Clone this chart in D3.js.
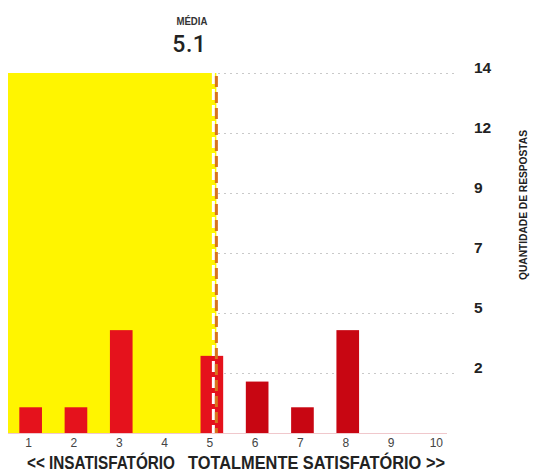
<!DOCTYPE html>
<html><head><meta charset="utf-8">
<script src="https://cdn.jsdelivr.net/npm/d3@7"></script>
<style>
html,body{margin:0;padding:0;background:#fff;}
svg{display:block;font-family:"Liberation Sans",Arial,sans-serif;}
</style></head>
<body>
<svg id="c" width="540" height="473"></svg>
<script>
const categories = ["1","2","3","4","5","6","7","8","9","10"];
const counts = [1,1,4,0,3,2,1,4,0,0];
const yTickValues = [14/6, 28/6, 7, 56/6, 70/6, 14];
const yTickLabels = ["2","5","7","9","12","14"];
const yMax = 14;
const meanTitle = "MÉDIA";
const yAxisTitle = "QUANTIDADE DE RESPOSTAS";
const leftLabel = "<< INSATISFATÓRIO";
const rightLabel = "TOTALMENTE SATISFATÓRIO >>";

const total = d3.sum(counts);
const meanRaw = d3.sum(counts, (d,i)=> d*(+categories[i])) / total;
const meanShown = +meanRaw.toFixed(1);

const svg = d3.select("#c");
const x = d3.scaleBand().domain(categories).range([8, 461]).paddingInner(0.5).paddingOuter(0.25);
const step = x.step();
const c1 = x("1")+x.bandwidth()/2;
const xLin = d3.scaleLinear().domain([1, 2]).range([c1, c1+step]);
const y = d3.scaleLinear().domain([0, yMax]).range([433, 73]);
const meanX = xLin(meanShown);

// gridlines
svg.append("g").selectAll("line").data(yTickValues).join("line")
  .attr("x1", xLin(0.5)).attr("x2", 458)
  .attr("y1", d=>Math.round(y(d))+0.5).attr("y2", d=>Math.round(y(d))+0.5)
  .attr("stroke", "#c9c9c9").attr("stroke-width", 1.2).attr("stroke-dasharray", "2,4");

// yellow area up to mean
svg.append("rect").attr("x", xLin(0.5)).attr("y", y(yMax))
  .attr("width", meanX - xLin(0.5)).attr("height", y(0) - y(yMax)).attr("fill", "#fff500");

// baseline
svg.append("line").attr("x1", xLin(0.5)).attr("x2", 447).attr("y1", y(0)+0.5).attr("y2", y(0)+0.5)
  .attr("stroke", "#f0c8cc").attr("stroke-width", 1);

// bars
svg.append("g").selectAll("rect").data(counts).join("rect")
  .attr("x", (d,i)=>x(categories[i]))
  .attr("width", x.bandwidth())
  .attr("y", d=>y(d)).attr("height", d=>y(0)-y(d))
  .attr("fill", (d,i)=> (x(categories[i]) + x.bandwidth()/2 < meanX) ? "#e5121c" : "#c80612");

// mean line (white + orange dashes)
svg.append("line").attr("x1", meanX-3).attr("x2", meanX-3).attr("y1", y(yMax)).attr("y2", y(0))
  .attr("stroke", "#ffffff").attr("stroke-width", 3).attr("stroke-dasharray", "11,5");
svg.append("line").attr("x1", meanX).attr("x2", meanX).attr("y1", y(yMax)+3).attr("y2", y(0))
  .attr("stroke", "#d8741c").attr("stroke-width", 3).attr("stroke-dasharray", "11,5");

// mean text
svg.append("text").attr("x", meanX - 9).attr("y", 25).attr("text-anchor", "end")
  .attr("font-size", 11).attr("font-weight", "bold").attr("fill", "#333")
  .attr("textLength", 31).attr("lengthAdjust", "spacingAndGlyphs").text(meanTitle);
svg.append("text").attr("x", meanX - 10).attr("y", 52).attr("text-anchor", "end")
  .style("font-family", "Roboto, 'Liberation Sans', sans-serif")
  .attr("font-size", 23).attr("font-weight", 500).attr("fill", "#222").attr("letter-spacing", 0.5)
  .text(meanShown.toFixed(1));

// y tick labels
svg.append("g").selectAll("text").data(yTickValues).join("text")
  .attr("x", 474).attr("y", d=> y(d))
  .attr("font-size", 15.5).attr("font-weight", "bold").attr("fill", "#222")
  .text((d,i)=>yTickLabels[i]);

// y axis title
svg.append("text").attr("transform", "translate(527,205) rotate(-90)").attr("text-anchor", "middle")
  .attr("font-size", 10).attr("font-weight", "bold").attr("fill", "#222")
  .attr("textLength", 150).attr("lengthAdjust", "spacingAndGlyphs").text(yAxisTitle);

// x tick labels
svg.append("g").selectAll("text").data(categories).join("text")
  .attr("x", d=>x(d)+x.bandwidth()/2 - 2).attr("y", 447).attr("text-anchor", "middle")
  .attr("font-size", 12).attr("fill", "#444").text(d=>d);

// bottom labels
svg.append("text").attr("x", 27).attr("y", 469).attr("font-size", 18).attr("font-weight", "bold").attr("fill", "#222")
  .attr("textLength", 148).attr("lengthAdjust", "spacingAndGlyphs").text(leftLabel);
svg.append("text").attr("x", 188).attr("y", 469).attr("font-size", 18).attr("font-weight", "bold").attr("fill", "#222")
  .attr("textLength", 257).attr("lengthAdjust", "spacingAndGlyphs").text(rightLabel);
</script>
</body></html>
